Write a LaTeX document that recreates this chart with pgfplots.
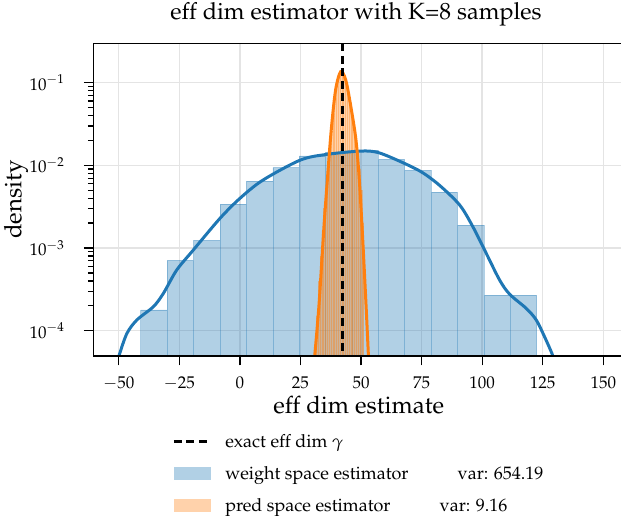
\documentclass[border=0pt]{standalone}
\usepackage[T1]{fontenc}
\usepackage{mathpazo}
\usepackage{pgfplots}
\pgfplotsset{compat=1.18}
\definecolor{c0}{RGB}{31,119,180}
\definecolor{c1}{RGB}{255,127,14}
\definecolor{gridc}{RGB}{228,228,228}

\begin{document}
\begin{tikzpicture}
\begin{axis}[
  name=ax,
  scale only axis,
  width=527.7pt, height=312.7pt,
  xmin=-60.5, xmax=157.3,
  ymode=log, ymin=4.94e-5, ymax=0.2996,
  log origin y=infty,
  axis line style={draw=none},
  xtick={-50,-25,...,150},
  ytick={1e-4,1e-3,1e-2,1e-1},
  xtick pos=bottom, ytick pos=left,
  tick align=outside,
  major tick length=9.5pt, minor tick length=5.5pt,
  every tick/.style={black, line width=1.3pt},
  grid=major,
  major grid style={gridc, line width=1.5pt},
  ticklabel style={font=\fontsize{17}{20}\selectfont},
  xticklabel style={yshift=-8pt},
  yticklabel style={xshift=-16pt},
  title={eff dim estimator with K=8 samples},
  title style={font=\fontsize{23.5}{27}\selectfont, at={(rel axis cs:0.498,1)}, anchor=south, inner sep=0pt, yshift=10.5pt},
  xlabel={eff dim estimate},
  xlabel style={font=\fontsize{24}{28}\selectfont, at={(rel axis cs:0.503,0)}, anchor=north, inner sep=0pt, yshift=-40pt},
  ylabel={density},
  ylabel style={font=\fontsize{24}{28}\selectfont, at={(rel axis cs:-0.1232,0.5)}, anchor=south, inner sep=0pt},
  legend style={at={(rel axis cs:0.150,-0.250)}, anchor=north west, draw=none, fill=none,
    inner sep=0pt, outer sep=0pt,
    font=\fontsize{18}{21}\selectfont, row sep=17.5pt,
    nodes={inner sep=0pt}},
  legend cell align=left,
]
\addlegendimage{legend image code/.code={\draw[black, line width=2.8pt, dash pattern=on 8pt off 4.5pt] (0pt,0pt) -- (37pt,0pt);}}
\addlegendentry{\hspace*{13pt}exact eff dim $\gamma$}
\addlegendimage{legend image code/.code={\path[draw=none, fill=c0, fill opacity=0.35] (0pt,-6.3pt) rectangle (37pt,6.3pt);}}
\addlegendentry{\hspace*{13pt}weight space estimator\hspace{49pt}var: 654.19}
\addlegendimage{legend image code/.code={\path[draw=none, fill=c1, fill opacity=0.35] (0pt,-6.3pt) rectangle (37pt,6.3pt);}}
\addlegendentry{\hspace*{13pt}pred space estimator\hspace{49pt}var: 9.16}

% weight space histogram
\addplot[ybar interval, fill=c0, fill opacity=0.35, draw=c0, draw opacity=0.35, line width=0.6pt, forget plot]
coordinates {(-40.9,1.78e-4) (-30.0,7.1e-4) (-19.1,1.24e-3) (-8.2,3.39e-3) (2.7,6.45e-3)
  (13.6,9.4e-3) (24.4,1.30e-2) (35.3,1.45e-2) (46.2,1.53e-2) (57.1,1.18e-2) (68.0,8.7e-3)
  (78.9,4.76e-3) (89.8,1.89e-3) (100.7,2.70e-4) (111.6,2.70e-4) (122.5,2.70e-4)};

% pred space histogram
\addplot[ybar interval, fill=c1, fill opacity=0.35, draw=c1, draw opacity=0.35, line width=0.6pt, forget plot]
coordinates {(31.60,1.5e-4) (32.35,4e-4) (33.10,8e-4) (33.85,1.6e-3) (34.60,3e-3) (35.35,5e-3)
  (36.10,9e-3) (36.85,1.6e-2) (37.60,2.6e-2) (38.35,4.2e-2) (39.10,6.5e-2) (39.85,9.0e-2)
  (40.60,1.15e-1) (41.35,1.3e-1) (42.10,1.25e-1) (42.85,1.15e-1) (43.60,9.5e-2) (44.35,7.5e-2)
  (45.10,5.8e-2) (45.85,4.4e-2) (46.60,3.2e-2) (47.35,2.3e-2) (48.10,1.5e-2) (48.85,9e-3)
  (49.60,5e-3) (50.35,2e-3) (51.10,2e-3)};

% weight space kde
\addplot[c0, line width=3pt, smooth, forget plot]
coordinates {(-50.2,4.5e-5) (-49.6,5.3e-5) (-46.6,9.3e-5) (-42.5,1.35e-4) (-35.7,1.95e-4)
  (-31.6,2.82e-4) (-26.1,5.4e-4) (-19.3,9.4e-4) (-8.3,2.27e-3) (-0.1,3.96e-3) (9.4,6.6e-3)
  (25,1.16e-2) (36.1,1.36e-2) (50,1.49e-2) (57,1.43e-2) (66,1.12e-2) (75,8.3e-3)
  (82.5,5.7e-3) (90.8,3.29e-3) (96.2,1.80e-3) (101.7,8.6e-4) (107.2,4.1e-4) (111.3,2.77e-4)
  (118.2,1.86e-4) (122.3,1.35e-4) (125.7,8.5e-5) (128.8,5.3e-5) (129.5,4.5e-5)};

% pred space kde
\addplot[c1, line width=3pt, smooth, forget plot]
coordinates {(30.6,4e-5) (32.6,1.95e-4) (34.7,1.81e-3) (36.1,6.65e-3) (37.7,2.67e-2)
  (39.5,8.15e-2) (41.6,0.136) (43.7,0.1076) (45.8,0.0513) (47.9,0.0204) (49.3,6.65e-3)
  (50.7,1.26e-3) (52.1,1.95e-4) (53.2,4e-5)};

% exact value
\addplot[black, line width=2.8pt, dash pattern=on 8pt off 4.5pt, forget plot]
coordinates {(42.5,0.2996) (42.5,1e-5)};
\end{axis}
\draw[line width=1.5pt] (ax.north west) -- (ax.south west) -- (ax.south east);
\draw[line width=1.5pt] (ax.north west) -- (ax.north east);
\pgfresetboundingbox
\path[use as bounding box] ([shift={(-93.3pt,-159pt)}]ax.south west) rectangle ([shift={(0pt,43.3pt)}]ax.north east);
\end{tikzpicture}
\end{document}
